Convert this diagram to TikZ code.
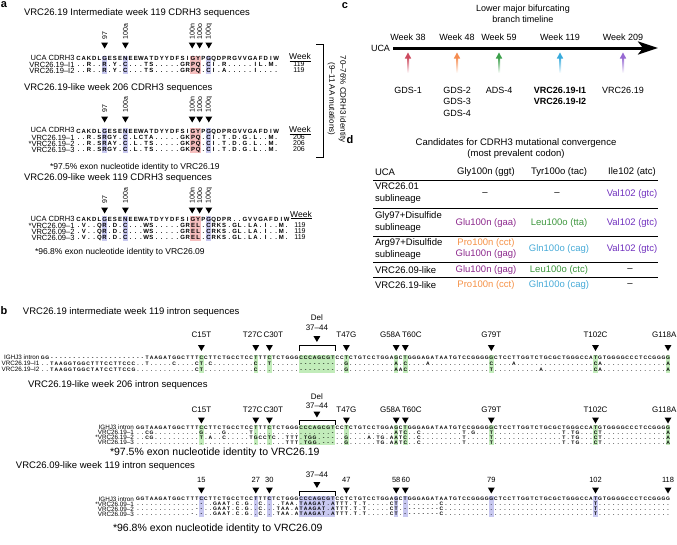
\documentclass[tikz,border=0pt]{standalone}
\usepackage{fontspec}
\setmainfont{Liberation Sans}
\usetikzlibrary{shapes.geometric,arrows.meta}

\definecolor{hlblue}{RGB}{200,200,240}
\definecolor{hlred}{RGB}{246,190,190}
\definecolor{hlgreen}{RGB}{194,236,186}
\definecolor{wkred}{RGB}{205,75,95}
\definecolor{wkorange}{RGB}{245,140,80}
\definecolor{wkgreen}{RGB}{60,160,75}
\definecolor{wkblue}{RGB}{55,170,220}
\definecolor{wkpurple}{RGB}{150,105,210}
\definecolor{cvval}{RGB}{112,48,190}
\definecolor{cvglu}{RGB}{140,40,140}
\definecolor{cvleu}{RGB}{60,150,60}
\definecolor{cvpro}{RGB}{245,145,70}
\definecolor{cvgln}{RGB}{70,170,215}

\ExplSyntaxOn
\newcommand{\sdots}[1]{\prg_replicate:nn{#1}{.}}
\newcommand{\sgaps}[1]{\prg_replicate:nn{#1}{-}}
\ExplSyntaxOff

% one character per column
\newcommand{\seqrow}[2]{\def\seqw{#1}\edef\seqtmp{#2}\expandafter\seqloop\seqtmp\relax}
\newcommand{\seqloop}[1]{\ifx\relax#1\else\hbox to \seqw{\hss#1\hss}\expandafter\seqloop\fi}

\newcommand{\hla}[5]{\fill[#1] ({76+(#2-1)*5.2},#4) rectangle ({76+#3*5.2},#5);}
\newcommand{\hlb}[5]{\fill[#1] ({135.735+(#2-1)*4.53},#4) rectangle ({135.735+#3*4.53},#5);}
\newcommand{\tlarrow}[2]{\shade[top color=#2, bottom color=white] ({#1-1},57) rectangle ({#1+1},73);
  \fill[#2] ({#1-3.2},58.5) -- ({#1+3.2},58.5) -- (#1,52.5) -- cycle;}

\begin{document}
\begin{tikzpicture}[x=1pt,y=-1pt,
    every node/.style={inner sep=0pt,outer sep=0pt},
    plab/.style={font=\fontsize{11}{11}\selectfont\bfseries},
    ttl/.style={anchor=west,font=\fontsize{9.5}{9.5}\selectfont},
    rlab/.style={rotate=90,anchor=west,font=\fontsize{7}{7}\selectfont},
    rowlab/.style={anchor=east,font=\fontsize{7.5}{7.5}\selectfont},
    rowlabb/.style={anchor=east,font=\fontsize{6.3}{6.3}\selectfont},
    seqa/.style={anchor=west,font=\fontsize{6}{6}\selectfont\bfseries,text height=4.3pt,text depth=0pt},
    seqb/.style={anchor=west,font=\fontsize{5}{5}\selectfont\bfseries,text height=3.6pt,text depth=0pt},
    tri/.style={regular polygon,regular polygon sides=3,shape border rotate=180,fill=black,minimum size=8pt},
    wk/.style={font=\fontsize{8.5}{8.5}\selectfont},
    wkv/.style={font=\fontsize{7}{7}\selectfont},
    note/.style={anchor=west,font=\fontsize{8.5}{8.5}\selectfont},
    notb/.style={anchor=west,font=\fontsize{10.5}{10.5}\selectfont},
    mut/.style={font=\fontsize{8}{8}\selectfont},
    mutn/.style={font=\fontsize{7.5}{7.5}\selectfont},
    tl/.style={font=\fontsize{9}{11.5}\selectfont},
    cell/.style={font=\fontsize{9.5}{12}\selectfont}]
\useasboundingbox (0,0) rectangle (677,544);

% ---------------- a
\node[plab] (pa) at (4,5) {a};

\node[ttl] (a1t) at (24,13) {VRC26.19 Intermediate week 119 CDRH3 sequences};
\hla{hlblue}{6}{6}{55.5}{73.5}
\hla{hlblue}{10}{10}{55.5}{73.5}
\hla{hlred}{23}{24}{55.5}{73.5}
\hla{hlblue}{26}{26}{55.5}{73.5}
\node[rlab] (a1l97) at (104.6,39) {97};
\node[rlab] (a1l100a) at (125.4,39) {100a};
\node[rlab] (a1l100n) at (192.2,39) {100n};
\node[rlab] (a1l100o) at (199.6,39) {100o};
\node[rlab] (a1l100q) at (208.8,39) {100q};
\node[tri] (a1t97) at (104.6,44.5) {};
\node[tri] (a1t100a) at (125.4,44.5) {};
\node[tri] (a1t100n) at (192.2,44.5) {};
\node[tri] (a1t100o) at (199.6,44.5) {};
\node[tri] (a1t100q) at (208.8,44.5) {};
\node[rowlab] (a1n0) at (74.5,57.5) {UCA CDRH3};
\node[seqa] (a1s0) at (76,58.5) {\seqrow{5.2pt}{CAKDLGESENEEWATDYYDFSIGYPGQDPRGVVGAFDIW}};
\node[rowlab] (a1n1) at (74.5,64.5) {VRC26.19–I1};
\node[seqa] (a1s1) at (76,64.5) {\seqrow{5.2pt}{..R..R.Y.C...TS.....GRPQ.CI.R.....IL.M.}};
\node[rowlab] (a1n2) at (74.5,70.5) {VRC26.19–I2};
\node[seqa] (a1s2) at (76,70.5) {\seqrow{5.2pt}{..R..R.Y.C...TS.....GRPQ.CI.A.....I....}};
\node[wk] (a1wk) at (300,56.5) {Week};
\draw (289.5,61) -- (311,61);
\node[wkv] (a1w1) at (299,64.5) {119};
\node[wkv] (a1w2) at (299,70.5) {119};

\draw (316,44) -- (323,44) -- (323,157) -- (316,157);
\node[font=\fontsize{8}{11}\selectfont,align=center,rotate=-90] (aid) at (337,99)
  {70–76\% CDRH3 identity\\(9–11 AA mutations)};

\node[ttl] (a2t) at (24,88.5) {VRC26.19-like week 206 CDRH3 sequences};
\hla{hlblue}{6}{6}{128}{152.5}
\hla{hlblue}{10}{10}{128}{152.5}
\hla{hlred}{23}{24}{128}{152.5}
\hla{hlblue}{26}{26}{128}{152.5}
\node[rlab] (a2l97) at (104.6,112) {97};
\node[rlab] (a2l100a) at (125.4,112) {100a};
\node[rlab] (a2l100n) at (192.2,112) {100n};
\node[rlab] (a2l100o) at (199.6,112) {100o};
\node[rlab] (a2l100q) at (208.8,112) {100q};
\node[tri] (a2t97) at (104.6,118.5) {};
\node[tri] (a2t100a) at (125.4,118.5) {};
\node[tri] (a2t100n) at (192.2,118.5) {};
\node[tri] (a2t100o) at (199.6,118.5) {};
\node[tri] (a2t100q) at (208.8,118.5) {};
\node[rowlab] (a2n0) at (74.5,130) {UCA CDRH3};
\node[seqa] (a2s0) at (76,131) {\seqrow{5.2pt}{CAKDLGESENEEWATDYYDFSIGYPGQDPRGVVGAFDIW}};
\node[rowlab] (a2n1) at (74.5,137.5) {VRC26.19–1};
\node[seqa] (a2s1) at (76,137.5) {\seqrow{5.2pt}{..R.SRGY.C.LCTA.....GKPQ.CI.T.D.G.L..M.}};
\node[rowlab] (a2n2) at (74.5,143.5) {*VRC26.19–2};
\node[seqa] (a2s2) at (76,143.5) {\seqrow{5.2pt}{..R.SRAY.C.L.TS.....GKPQ.CI.T.D.G.L..M.}};
\node[rowlab] (a2n3) at (74.5,149.5) {VRC26.19–3};
\node[seqa] (a2s3) at (76,149.5) {\seqrow{5.2pt}{..R.SRGY.C.L.TS.....GKPQ.CI.T.D.G.L..M.}};
\node[wk] (a2wk) at (300,129.5) {Week};
\draw (289.5,134) -- (311,134);
\node[wkv] (a2w1) at (299,137.5) {206};
\node[wkv] (a2w2) at (299,143.5) {206};
\node[wkv] (a2w3) at (299,149.5) {206};
\node[note] (a2f) at (50,167) {*97.5\% exon nucleotide identity to VRC26.19};

\node[ttl] (a3t) at (24,178) {VRC26.09-like week 119 CDRH3 sequences};
\hla{hlblue}{6}{6}{216}{240.5}
\hla{hlblue}{10}{10}{216}{240.5}
\hla{hlred}{23}{24}{216}{240.5}
\hla{hlblue}{26}{26}{216}{240.5}
\node[rlab] (a3l97) at (104.6,203.5) {97};
\node[rlab] (a3l100a) at (125.4,203.5) {100a};
\node[rlab] (a3l100n) at (192.2,203.5) {100n};
\node[rlab] (a3l100o) at (199.6,203.5) {100o};
\node[rlab] (a3l100q) at (208.8,203.5) {100q};
\node[tri] (a3t97) at (104.6,209.5) {};
\node[tri] (a3t100a) at (125.4,209.5) {};
\node[tri] (a3t100n) at (192.2,209.5) {};
\node[tri] (a3t100o) at (199.6,209.5) {};
\node[tri] (a3t100q) at (208.8,209.5) {};
\node[rowlab] (a3n0) at (74.5,218.5) {UCA CDRH3};
\node[seqa] (a3s0) at (76,219.5) {\seqrow{5.2pt}{CAKDLGESENEEWATDYYDFSIGYPGQDPR..GVVGAFDIW}};
\node[rowlab] (a3n1) at (74.5,225.5) {*VRC26.09–1};
\node[seqa] (a3s1) at (76,225.5) {\seqrow{5.2pt}{.V..QR.D.C...WS.....GREL.CRKS.GL.LA.I..M.}};
\node[rowlab] (a3n2) at (74.5,231.5) {VRC26.09–2};
\node[seqa] (a3s2) at (76,231.5) {\seqrow{5.2pt}{.V..QR.D.C...WS.....GREL.CRKS.GL.LA.I..M.}};
\node[rowlab] (a3n3) at (74.5,237.5) {VRC26.09–3};
\node[seqa] (a3s3) at (76,237.5) {\seqrow{5.2pt}{.V..QR.D.C...WS.....GREL.CRKS.GL.LA.I..M.}};
\node[wk] (a3wk) at (301,214) {Week};
\draw (290.5,218.5) -- (312,218.5);
\node[wkv] (a3w1) at (300,225.5) {119};
\node[wkv] (a3w2) at (300,231.5) {119};
\node[wkv] (a3w3) at (300,237.5) {119};
\node[note] (a3f) at (35,252) {*96.8\% exon nucleotide identity to VRC26.09};

% ---------------- b
\node[plab] (pb) at (4,311) {b};

\node[ttl] (b1t) at (23,312.5) {VRC26.19 intermediate week 119 intron sequences};
\hlb{hlgreen}{15}{15}{354.5}{372.5}
\hlb{hlgreen}{27}{27}{354.5}{372.5}
\hlb{hlgreen}{30}{30}{354.5}{372.5}
\hlb{hlgreen}{37}{44}{354.5}{372.5}
\hlb{hlgreen}{47}{47}{354.5}{372.5}
\hlb{hlgreen}{58}{58}{354.5}{372.5}
\hlb{hlgreen}{60}{60}{354.5}{372.5}
\hlb{hlgreen}{79}{79}{354.5}{372.5}
\hlb{hlgreen}{102}{102}{354.5}{372.5}
\hlb{hlgreen}{118}{118}{354.5}{372.5}
\node[mut] (b1del) at (316.9,318) {Del};
\node[mut] (b1dr) at (316.9,328) {37–44};
\node[tri] (b1td) at (316.9,338) {};
\draw (298.8,351) -- (298.8,345) -- (335.05,345) -- (335.05,351);
\node[mut] (b1m15) at (201.4,335) {C15T};
\node[mut,anchor=east] (b1m27) at (262.5,335) {T27C};
\node[mut,anchor=west] (b1m30) at (263.5,335) {C30T};
\node[mut] (b1m47) at (346.4,335) {T47G};
\node[mut,anchor=east] (b1m58) at (400.5,335) {G58A};
\node[mut,anchor=west] (b1m60) at (402,335) {T60C};
\node[mut] (b1m79) at (491.3,335) {G79T};
\node[mut] (b1m102) at (595.5,335) {T102C};
\node[mut,anchor=east] (b1m118) at (676.5,335) {G118A};
\node[tri] (b1t15) at (201.4,347) {};
\node[tri] (b1t27) at (255.8,347) {};
\node[tri] (b1t30) at (269.4,347) {};
\node[tri] (b1t47) at (346.4,347) {};
\node[tri] (b1t58) at (396.2,347) {};
\node[tri] (b1t60) at (405.3,347) {};
\node[tri] (b1t79) at (491.3,347) {};
\node[tri] (b1t102) at (595.5,347) {};
\node[tri] (b1t118) at (668,347) {};
\node[rowlabb] (b1n0) at (39.5,357.5) {IGHJ3 intron};
\node[seqb] (b1s0) at (40.605,357.5) {\seqrow{4.53pt}{GG\sgaps{21}TAAGATGG CTTTCCTTCT GCCTCCTTTC TCTGGGCCCA GCGTCCTCTG TCCTGGAGCT GGGAGATAAT GTCCGGGGGC TCCTTGGTCT GCGCTGGGCC ATGTGGGGCC CTCCGGGG}};
\node[rowlabb] (b1n1) at (39.5,363.5) {VRC26.19–I1};
\node[seqb] (b1s1) at (40.605,363.5) {\seqrow{4.53pt}{..TAAGGTGGCTTTCCTTCCC..T\sdots{5}C\sdots{4}CT.C\sdots{9}C..T\sdots{6}\sgaps{8}..G\sdots{10}A.C\sdots{4}A\sdots{13}C\sdots{4}A\sdots{17}CA\sdots{14}A}};
\node[rowlabb] (b1n2) at (39.5,369.5) {VRC26.19–I2};
\node[seqb] (b1s2) at (40.605,369.5) {\seqrow{4.53pt}{..TAAGGTGGCTATCCTTCCG..\sdots{11}CT\sdots{11}C\sdots{9}\sgaps{8}..G\sdots{10}AAC\sdots{18}T\sdots{10}A\sdots{11}CA\sdots{14}A}};

\node[ttl] (b2t) at (28,385) {VRC26.19-like week 206 intron sequences};
\hlb{hlgreen}{15}{15}{424.8}{445}
\hlb{hlgreen}{27}{27}{424.8}{445}
\hlb{hlgreen}{30}{30}{424.8}{445}
\hlb{hlgreen}{37}{44}{424.8}{445}
\hlb{hlgreen}{47}{47}{424.8}{445}
\hlb{hlgreen}{58}{58}{424.8}{445}
\hlb{hlgreen}{60}{60}{424.8}{445}
\hlb{hlgreen}{79}{79}{424.8}{445}
\hlb{hlgreen}{102}{102}{424.8}{445}
\hlb{hlgreen}{118}{118}{424.8}{445}
\node[mut] (b2del) at (316.9,397) {Del};
\node[mut] (b2dr) at (316.9,405.5) {37–44};
\node[tri] (b2td) at (316.9,413.5) {};
\draw (298.8,424.5) -- (298.8,420) -- (335.05,420) -- (335.05,424.5);
\node[mut] (b2m15) at (201.4,409.5) {C15T};
\node[mut,anchor=east] (b2m27) at (262.5,409.5) {T27C};
\node[mut,anchor=west] (b2m30) at (263.5,409.5) {C30T};
\node[mut] (b2m47) at (346.4,409.5) {T47G};
\node[mut,anchor=east] (b2m58) at (400.5,409.5) {G58A};
\node[mut,anchor=west] (b2m60) at (402,409.5) {T60C};
\node[mut] (b2m79) at (491.3,409.5) {G79T};
\node[mut] (b2m102) at (595.5,409.5) {T102C};
\node[mut,anchor=east] (b2m118) at (676.5,409.5) {G118A};
\node[tri] (b2t15) at (201.4,419.5) {};
\node[tri] (b2t27) at (255.8,419.5) {};
\node[tri] (b2t30) at (269.4,419.5) {};
\node[tri] (b2t47) at (346.4,419.5) {};
\node[tri] (b2t58) at (396.2,419.5) {};
\node[tri] (b2t60) at (405.3,419.5) {};
\node[tri] (b2t79) at (491.3,419.5) {};
\node[tri] (b2t102) at (595.5,419.5) {};
\node[tri] (b2t118) at (668,419.5) {};
\node[rowlabb] (b2n0) at (134,427.5) {IGHJ3 intron};
\node[seqb] (b2s0) at (135.735,427.5) {\seqrow{4.53pt}{GGTAAGATGG CTTTCCTTCT GCCTCCTTTC TCTGGGCCCA GCGTCCTCTG TCCTGGAGCT GGGAGATAAT GTCCGGGGGC TCCTTGGTCT GCGCTGGGCC ATGTGGGGCC CTCCGGGG}};
\node[rowlabb] (b2n1) at (134,432.5) {VRC26.19–1};
\node[seqb] (b2s1) at (135.735,432.5) {\seqrow{4.53pt}{..CG\sdots{10}G\sdots{4}G\sdots{5}T\sdots{17}-\sdots{13}ATC..C\sdots{9}T.G...T\sdots{15}T.TG...CT\sdots{14}A}};
\node[rowlabb] (b2n2) at (134,437.5) {*VRC26.19–2};
\node[seqb] (b2s2) at (135.735,437.5) {\seqrow{4.53pt}{..CG\sdots{10}T.A..C\sdots{5}TGCCTC..TTT.TGG.---..G\sdots{4}A.TG.AATC..C\sdots{9}T\sdots{5}T\sdots{15}T.TG...CT\sdots{14}A}};
\node[rowlabb] (b2n3) at (134,442.5) {VRC26.19–3};
\node[seqb] (b2s3) at (135.735,442.5) {\seqrow{4.53pt}{\sdots{33}TTT.TGG.---..G\sdots{6}TG.AATC..C\sdots{9}T\sdots{5}T\sdots{15}T.TG...CT\sdots{14}A}};
\node[notb] (b2f) at (110,452.5) {*97.5\% exon nucleotide identity to VRC26.19};

\node[ttl] (b3t) at (16,466) {VRC26.09-like week 119 intron sequences};
\hlb{hlblue}{15}{15}{496.3}{516.5}
\hlb{hlblue}{27}{27}{496.3}{516.5}
\hlb{hlblue}{30}{30}{496.3}{516.5}
\hlb{hlblue}{37}{44}{496.3}{516.5}
\hlb{hlblue}{58}{58}{496.3}{516.5}
\hlb{hlblue}{60}{60}{496.3}{516.5}
\hlb{hlblue}{79}{79}{496.3}{516.5}
\hlb{hlblue}{102}{102}{496.3}{516.5}
\node[mut] (b3dr) at (316.9,475) {37–44};
\node[tri] (b3td) at (316.9,484) {};
\draw (298.8,496) -- (298.8,491.5) -- (335.05,491.5) -- (335.05,496);
\node[mutn] (b3m15) at (201.4,479.5) {15};
\node[mutn] (b3m27) at (255.8,479.5) {27};
\node[mutn] (b3m30) at (269.4,479.5) {30};
\node[mutn] (b3m47) at (346.4,479.5) {47};
\node[mutn] (b3m58) at (396.2,479.5) {58};
\node[mutn] (b3m60) at (405.8,479.5) {60};
\node[mutn] (b3m79) at (491.3,479.5) {79};
\node[mutn] (b3m102) at (595.5,479.5) {102};
\node[mutn] (b3m118) at (668,479.5) {118};
\node[tri] (b3t15) at (201.4,489.5) {};
\node[tri] (b3t27) at (255.8,489.5) {};
\node[tri] (b3t30) at (269.4,489.5) {};
\node[tri] (b3t47) at (346.4,489.5) {};
\node[tri] (b3t58) at (396.2,489.5) {};
\node[tri] (b3t60) at (405.3,489.5) {};
\node[tri] (b3t79) at (491.3,489.5) {};
\node[tri] (b3t102) at (595.5,489.5) {};
\node[tri] (b3t118) at (668,489.5) {};
\node[rowlabb] (b3n0) at (134,499) {IGHJ3 intron};
\node[seqb] (b3s0) at (135.735,499) {\seqrow{4.53pt}{GGTAAGATGG CTTTCCTTCT GCCTCCTTTC TCTGGGCCCA GCGTCCTCTG TCCTGGAGCT GGGAGATAAT GTCCGGGGGC TCCTTGGTCT GCGCTGGGCC ATGTGGGGCC CTCCGGGG}};
\node[rowlabb] (b3n1) at (134,504) {*VRC26.09–1};
\node[seqb] (b3s1) at (135.735,504) {\seqrow{4.53pt}{\sdots{14}-..GAAT.C.G..C\sdots{4}TAA.TAAGAT.ATTT.T.T\sdots{5}CT.-\sdots{7}C\sdots{33}T\sdots{16}}};
\node[rowlabb] (b3n2) at (134,509) {VRC26.09–2};
\node[seqb] (b3s2) at (135.735,509) {\seqrow{4.53pt}{\sdots{13}--..GAAT.C.G..C\sdots{3}TAA.ATAAGAT.ATTT.T.T\sdots{5}CT.-\sgaps{7}C\sdots{33}T\sdots{16}}};
\node[rowlabb] (b3n3) at (134,514) {VRC26.09–3};
\node[seqb] (b3s3) at (135.735,514) {\seqrow{4.53pt}{\sdots{12}-.-..GAAT.C.G..C\sdots{3}TAA.ATAAGAT.ATTT.T.T\sdots{5}CT.-\sgaps{7}C\sdots{33}T\sdots{16}}};
\node[notb] (b3f) at (113,528.5) {*96.8\% exon nucleotide identity to VRC26.09};

% ---------------- c
\node[plab] (pc) at (345,6) {c};
\node[tl,align=center] (ctit) at (523,14) {Lower major bifurcating\\branch timeline};
\node[tl] (cw38) at (408,37) {Week 38};
\node[tl] (cw48) at (457,37) {Week 48};
\node[tl] (cw59) at (499,37) {Week 59};
\node[tl] (cw119) at (560,37) {Week 119};
\node[tl] (cw209) at (623,37) {Week 209};
\node[tl,anchor=east] (cuca) at (390,48) {UCA};
\coordinate (cstart) at (393,48);
\coordinate (cend) at (658,48);
\draw[line width=3pt,-{Stealth[length=20pt,width=13pt,inset=5pt]}] (cstart) -- (cend);
\tlarrow{408}{wkred}
\tlarrow{457}{wkorange}
\tlarrow{499}{wkgreen}
\tlarrow{560}{wkblue}
\tlarrow{623}{wkpurple}
\node[tl] (cg1) at (408,90) {GDS-1};
\node[tl,align=center] (cg234) at (457,101.5) {GDS-2\\GDS-3\\GDS-4};
\node[tl] (ca4) at (499,90) {ADS-4};
\node[tl,align=center,font=\fontsize{9}{11.5}\selectfont\bfseries] (ci12) at (560,95.75) {VRC26.19-I1\\VRC26.19-I2};
\node[tl] (cv19) at (623,90) {VRC26.19};

% ---------------- d
\node[plab] (pd) at (350,140) {d};
\node[cell,align=center,font=\fontsize{9.5}{11}\selectfont] (dtit) at (516,148.5)
  {Candidates for CDRH3 mutational convergence\\(most prevalent codon)};
\node[cell,anchor=west] (dh0) at (375,172) {UCA};
\node[cell] (dh1) at (486,172) {Gly100n (ggt)};
\node[cell] (dh2) at (559,172) {Tyr100o (tac)};
\node[cell] (dh3) at (632,172) {Ile102 (atc)};
\draw[line width=1.2pt] (373,180.5) -- (658,180.5);
\node[cell,anchor=west,align=left] (d1a) at (375,193.5) {VRC26.01\\sublineage};
\node[cell] (d1b) at (485,194) {–};
\node[cell] (d1c) at (557,194) {–};
\node[cell,text=cvval] (d1d) at (632,194) {Val102 (gtc)};
\draw[line width=0.7pt] (373,208.3) -- (658,208.3);
\node[cell,anchor=west,align=left] (d2a) at (375,222.5) {Gly97+Disulfide\\sublineage};
\node[cell,text=cvglu] (d2b) at (486,223) {Glu100n (gaa)};
\node[cell,text=cvleu] (d2c) at (559,223) {Leu100o (tta)};
\node[cell,text=cvval] (d2d) at (632,223) {Val102 (gtc)};
\draw[line width=0.7pt] (373,236.7) -- (658,236.7);
\node[cell,anchor=west,align=left] (d3a) at (375,249) {Arg97+Disulfide\\sublineage};
\node[cell,text=cvpro] (d3b) at (486,243.3) {Pro100n (cct)};
\node[cell,text=cvglu] (d3e) at (486,254.5) {Glu100n (gag)};
\node[cell,text=cvgln] (d3c) at (559,249.3) {Gln100o (cag)};
\node[cell,text=cvval] (d3d) at (632,249.3) {Val102 (gtc)};
\draw[line width=0.7pt] (373,262.7) -- (658,262.7);
\node[cell,anchor=west] (d4a) at (375,270) {VRC26.09-like};
\node[cell,text=cvglu] (d4b) at (486,270) {Glu100n (gag)};
\node[cell,text=cvleu] (d4c) at (559,270) {Leu100o (ctc)};
\node[cell] (d4d) at (630,270) {–};
\draw[line width=0.7pt] (373,277.7) -- (658,277.7);
\node[cell,anchor=west] (d5a) at (375,285) {VRC26.19-like};
\node[cell,text=cvpro] (d5b) at (486,285) {Pro100n (cct)};
\node[cell,text=cvgln] (d5c) at (559,285) {Gln100o (cag)};
\node[cell] (d5d) at (630,285) {–};
\end{tikzpicture}
\end{document}
